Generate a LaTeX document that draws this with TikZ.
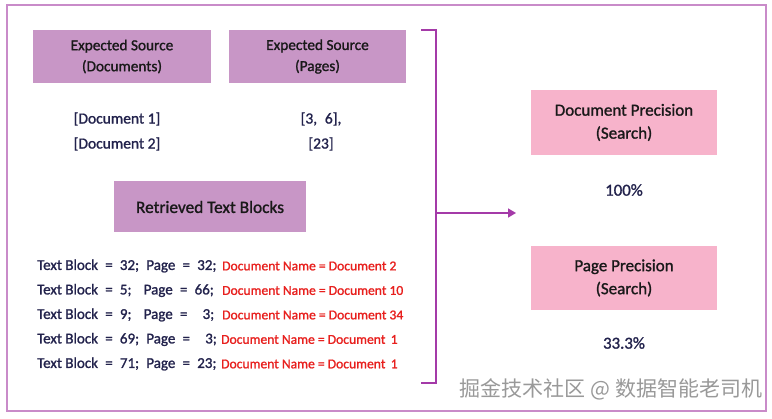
\documentclass[tikz,border=0pt]{standalone}
\usepackage{fontspec}
\setmainfont{Carlito}[FakeBold=1.2]
\newfontfamily\cjk{Noto Sans CJK SC}
\usetikzlibrary{arrows.meta}
\definecolor{frame}{HTML}{C98BC9}
\definecolor{brk}{HTML}{A43AA8}
\definecolor{boxpurple}{HTML}{C896C6}
\definecolor{boxpink}{HTML}{F7B3CB}
\definecolor{ink}{HTML}{22224C}
\definecolor{redtxt}{HTML}{E8201E}
\newcommand{\gapx}{\hspace{7.2pt}}
\tikzset{
  pbox/.style={fill=boxpurple, draw=none, inner sep=0pt, align=center, text=black!90, font=\fontsize{15.3}{21}\selectfont},
  kbox/.style={fill=boxpink, draw=none, inner sep=0pt, align=center, text=black!90, font=\fontsize{17}{23}\selectfont},
  val/.style={text=ink, align=center, inner sep=0pt, font=\fontsize{15.5}{25}\selectfont},
  rowtxt/.style={text=ink, anchor=west, inner sep=0pt, font=\fontsize{15}{17}\selectfont},
  redrow/.style={text=redtxt, anchor=west, inner sep=0pt, font=\fontsize{13.6}{17}\selectfont},
  brline/.style={draw=brk, line width=1.6pt},
}
\begin{document}
\begin{tikzpicture}[x=1pt,y=-1pt]
\useasboundingbox (0,0) rectangle (772,419);
\fill[white] (0,0) rectangle (772,419);
\draw[frame, line width=1.3pt] (7,5) rectangle (766,411);

\node[pbox, minimum width=178pt, minimum height=53pt] (esd) at (122,56.5) {Expected Source\\(Documents)};
\node[pbox, minimum width=177pt, minimum height=53pt] (esp) at (317.5,56.5) {Expected Source\\(Pages)};
\node[val] (docs) at (117,131.5) {[Document 1]\\{}[Document 2]};
\node[val] (pages) at (321,131.5) {[3,\enspace 6],\\{}[23]};
\node[pbox, minimum width=192pt, minimum height=51pt, font=\fontsize{17.3}{20}\selectfont] (rtb) at (210,207) {Retrieved Text Blocks};

\node[rowtxt] (r1) at (37,266) {Text Block\gapx=\gapx32;\gapx Page\gapx=\gapx32;};
\node[redrow] (d1) at (222,266) {Document Name = Document 2};
\node[rowtxt] (r2) at (37,290.5) {Text Block\gapx=\gapx5;\gapx\hspace{5pt}Page\gapx=\gapx66;};
\node[redrow] (d2) at (222,290.5) {Document Name = Document 10};
\node[rowtxt] (r3) at (37,315) {Text Block\gapx=\gapx9;\gapx\hspace{5pt}Page\gapx=\gapx\hspace{8pt}3;};
\node[redrow] (d3) at (222,315) {Document Name = Document 34};
\node[rowtxt] (r4) at (37,339.5) {Text Block\gapx=\gapx69;\gapx Page\gapx=\gapx\hspace{8pt}3;};
\node[redrow] (d4) at (221,339.5) {Document Name = Document\, 1};
\node[rowtxt] (r5) at (37,364) {Text Block\gapx=\gapx71;\gapx Page\gapx=\gapx23;};
\node[redrow] (d5) at (221,364) {Document Name = Document\, 1};

\coordinate (btop) at (421,30);
\coordinate (bbot) at (421,383);
\coordinate (bmid) at (436,213);
\coordinate (aend) at (516,213);
\draw[brline] (btop) -- (436,30) -- (436,383) -- (bbot);
\draw[brline, -{Triangle[length=8pt,width=9pt]}] (bmid) -- (aend);

\node[kbox, minimum width=186pt, minimum height=65pt] (dp) at (624,122.5) {Document Precision\\(Search)};
\node[val, font=\fontsize{16.8}{18}\selectfont] (v1) at (624,190) {100\%};
\node[kbox, minimum width=186pt, minimum height=64pt] (pp) at (624,278) {Page Precision\\(Search)};
\node[val, font=\fontsize{16.8}{18}\selectfont] (v2) at (624,343) {33.3\%};

\node[text=black!40, inner sep=0pt, font=\cjk\fontsize{21}{24}\selectfont] (wm) at (611,389) {掘金技术社区 @ 数据智能老司机};
\end{tikzpicture}
\end{document}
